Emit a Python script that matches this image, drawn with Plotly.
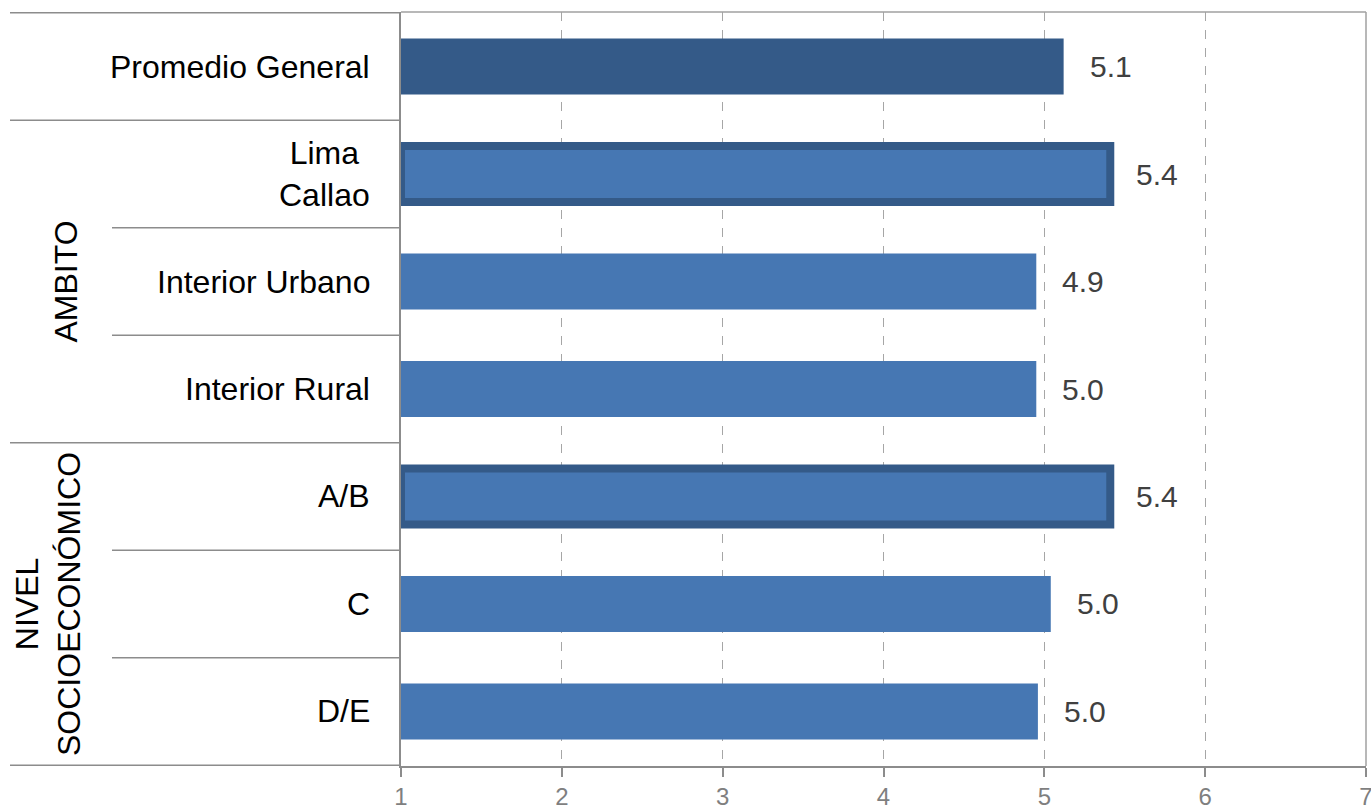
import plotly.graph_objects as go

categories = ["Promedio General", "Lima Callao", "Interior Urbano", "Interior Rural", "A/B", "C", "D/E"]
category_labels = ["Promedio General", "Lima<br>Callao", "Interior Urbano", "Interior Rural", "A/B", "C", "D/E"]
values = [5.12, 5.41, 4.95, 4.95, 5.41, 5.04, 4.96]
value_labels = ["5.1", "5.4", "4.9", "5.0", "5.4", "5.0", "5.0"]
highlighted = [False, True, False, False, True, False, False]
groups = [("AMBITO", 1, 3), ("NIVEL<br>SOCIOECONÓMICO", 4, 6)]
x_ticks = [1, 2, 3, 4, 5, 6, 7]

DARK = "#345A88"
BLUE = "#4677B3"
LINE = "#8c8c8c"
FONT = "Liberation Sans, Arial, sans-serif"

W, H = 1371, 809
ML, MR, MT, MB = 401, 5, 12, 43
plot_w = W - ML - MR

def px_to_paper(px):
    return (px - ML) / plot_w

colors = [DARK if i == 0 else BLUE for i in range(len(categories))]
line_w = [8 if h else 0 for h in highlighted]

fig = go.Figure()
fig.add_trace(go.Bar(
    y=categories, x=[v - 1 for v in values], base=1, orientation="h",
    marker=dict(color=colors, line=dict(color=DARK, width=line_w)),
    hoverinfo="skip", showlegend=False,
))

# value labels
for c, v, t in zip(categories, values, value_labels):
    fig.add_annotation(x=v, y=c, xref="x", yref="y", text=t, showarrow=False,
                       xanchor="left", xshift=24,
                       font=dict(size=30, color="#404040", family=FONT))

# category labels
for c, t in zip(categories, category_labels):
    fig.add_annotation(x=0, y=c, xref="paper", yref="y", text=t, showarrow=False,
                       xanchor="right", xshift=-29, align="center",
                       font=dict(size=32, color="#000000", family=FONT))

# group labels
gx = {"AMBITO": 66, "NIVEL<br>SOCIOECONÓMICO": 48}
for name, a, b in groups:
    fig.add_annotation(x=px_to_paper(gx[name]), y=(a + b) / 2, xref="paper", yref="y",
                       text=name, showarrow=False, textangle=-90, align="center",
                       xanchor="center", yanchor="middle",
                       font=dict(size=32, color="#000000", family=FONT))

# separators
full_x0 = px_to_paper(10)
short_x0 = px_to_paper(112)
n = len(categories)
for k in range(n + 1):
    yb = k - 0.5
    starts_group = k in (0, 1, 4, n)
    x0 = full_x0 if starts_group else short_x0
    fig.add_shape(type="line", xref="paper", yref="y", x0=x0, x1=0, y0=yb, y1=yb,
                  line=dict(color=LINE, width=1.6), layer="above")

# top and right border
fig.add_shape(type="line", xref="paper", yref="paper", x0=0, x1=1, y0=1, y1=1,
              line=dict(color="#a0a0a0", width=1.5), layer="above")
fig.add_shape(type="line", xref="paper", yref="paper", x0=1, x1=1, y0=0, y1=1,
              line=dict(color="#a0a0a0", width=1.5), layer="above")

fig.update_xaxes(range=[1, 7], tickvals=x_ticks, ticktext=[str(t) for t in x_ticks],
                 showgrid=True, gridcolor="#a6a6a6", gridwidth=1.2, griddash="dash",
                 showline=True, linecolor=LINE, linewidth=2,
                 ticks="outside", ticklen=9, tickcolor=LINE, tickwidth=1.5,
                 tickfont=dict(size=24, color="#7f7f7f", family=FONT),
                 ticklabelstandoff=-1, ticklabeloverflow="allow",
                 zeroline=False, automargin=False)
fig.update_yaxes(categoryorder="array", categoryarray=categories, autorange="reversed",
                 showticklabels=False, showgrid=False, zeroline=False,
                 showline=True, linecolor=LINE, linewidth=2,
                 ticks="outside", tickson="boundaries", ticklen=8, tickcolor=LINE,
                 automargin=False)

fig.update_layout(width=W, height=H, margin=dict(l=ML, r=MR, t=MT, b=MB),
                  plot_bgcolor="white", paper_bgcolor="white", bargap=0.48,
                  font=dict(family=FONT))

fig.write_html("out.html", config={"displayModeBar": False},
               post_script="document.body.style.margin='0';document.body.style.overflow='hidden';")
